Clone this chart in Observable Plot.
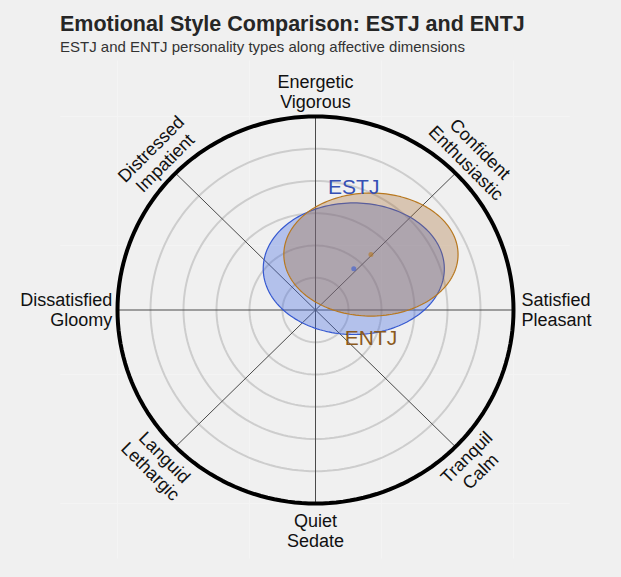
<!DOCTYPE html>
<html>
<head>
<meta charset="utf-8">
<script src="https://cdn.jsdelivr.net/npm/d3@7"></script>
<script src="https://cdn.jsdelivr.net/npm/@observablehq/plot@0.6"></script>
<style>
  body { margin: 0; background: #f0f0f0; font-family: "Liberation Sans", Arial, sans-serif; }
  #wrap { position: relative; width: 621px; height: 577px; background: #f0f0f0; }
  #header { height: 60px; position: relative; }
  #title { position: absolute; left: 60px; top: 11px; font-size: 21.5px; font-weight: bold; color: #262626; line-height: 26px; white-space: nowrap; }
  #subtitle { position: absolute; left: 60px; top: 38px; font-size: 15px; color: #333; line-height: 18px; white-space: nowrap; }
  #chart svg { display: block; }
</style>
</head>
<body>
<div id="wrap">
  <div id="header">
    <div id="title">Emotional Style Comparison: ESTJ and ENTJ</div>
    <div id="subtitle">ESTJ and ENTJ personality types along affective dimensions</div>
  </div>
  <div id="chart"></div>
</div>
<script>
// ---- data ----
const types = ["ESTJ", "ENTJ"];
const centerX = [0.29, 0.42];
const centerY = [0.32, 0.43];
const radiusX = [0.686, 0.66];
const radiusY = [0.51, 0.477];
const labelX = [0.29, 0.42];
const labelY = [0.95, -0.22];

const dimensionLabels = [
  "Satisfied\nPleasant", "Confident\nEnthusiastic", "Energetic\nVigorous", "Distressed\nImpatient",
  "Dissatisfied\nGloomy", "Languid\nLethargic", "Quiet\nSedate", "Tranquil\nCalm"
];
const dimensionAngles = [0, 45, 90, 135, 180, 225, 270, 315];
const ringRadii = [0.25, 0.5, 0.75, 1.0, 1.25];
const outerRadius = 1.5;
const gridBreaks = [-1.5, -0.5, 0.5, 1.5];

// ---- styles ----
const fillColors = {ESTJ: "#4169e1", ENTJ: "#a5692f"};
const strokeColors = {ESTJ: "#3558d0", ENTJ: "#b8781f"};
const textColors = {ESTJ: "#3550b5", ENTJ: "#8b5a1e"};

// ---- geometry helpers ----
const rad = d => d * Math.PI / 180;
function ring(r, id) {
  return d3.range(0, 361, 2).map(a => ({id, x: r * Math.cos(rad(a)), y: r * Math.sin(rad(a))}));
}
const ringPts = ringRadii.flatMap((r, i) => ring(r, i));
const outerPts = ring(outerRadius, "outer");

const ellipses = types.map((t, i) => ({
  type: t, cx: centerX[i], cy: centerY[i], rx: radiusX[i], ry: radiusY[i], lx: labelX[i], ly: labelY[i]
}));
const ellipsePts = ellipses.flatMap(e =>
  d3.range(0, 361, 2).map(a => ({type: e.type, x: e.cx + e.rx * Math.cos(rad(a)), y: e.cy + e.ry * Math.sin(rad(a))}))
);

const spokes = dimensionAngles.map(a => ({x: outerRadius * Math.cos(rad(a)), y: outerRadius * Math.sin(rad(a))}));

const dims = dimensionAngles.map((a, i) => {
  let rot = 90 - a;
  while (rot > 90) rot -= 180;
  while (rot <= -90) rot += 180;
  let x, y, anchor = "middle";
  if (a === 0) { x = 1.56; y = 0; anchor = "start"; rot = 0; }
  else if (a === 180) { x = -1.54; y = 0; anchor = "end"; rot = 0; }
  else if (a === 90) { x = 0; y = 1.69; rot = 0; }
  else if (a === 270) { x = 0; y = -1.71; rot = 0; }
  else { x = 1.69 * Math.cos(rad(a)); y = 1.69 * Math.sin(rad(a)); }
  return {label: dimensionLabels[i], x, y, anchor, rot};
});

const font = "Liberation Sans, Arial, sans-serif";
const chart = Plot.plot({
  width: 621,
  height: 517,
  margin: 0,
  x: {domain: [-1.5, 1.5], range: [117, 513], axis: null},
  y: {domain: [-1.5, 1.5], range: [443, 56], axis: null},
  style: {background: "transparent", fontFamily: font},
  marks: [
    Plot.ruleX(gridBreaks, {y1: -1.93, y2: 1.93, stroke: "#f4f4f4", strokeWidth: 1}),
    Plot.ruleY(gridBreaks, {x1: -1.93, x2: 1.93, stroke: "#f4f4f4", strokeWidth: 1}),
    Plot.line(ringPts, {x: "x", y: "y", z: "id", stroke: "#cdcdcd", strokeWidth: 2, curve: "linear-closed"}),
    Plot.link(spokes, {x1: 0, y1: 0, x2: "x", y2: "y", stroke: "#4a4a4a", strokeWidth: 1}),
    Plot.line(ellipsePts.filter(d => d.type === "ESTJ"), {x: "x", y: "y", curve: "linear-closed",
      fill: fillColors.ESTJ, fillOpacity: 0.35, stroke: strokeColors.ESTJ, strokeWidth: 1.2}),
    Plot.line(ellipsePts.filter(d => d.type === "ENTJ"), {x: "x", y: "y", curve: "linear-closed",
      fill: fillColors.ENTJ, fillOpacity: 0.32, stroke: strokeColors.ENTJ, strokeWidth: 1.2}),
    Plot.dot(ellipses, {x: "cx", y: "cy", r: 2.5, fill: d => strokeColors[d.type], fillOpacity: 0.6, stroke: null}),
    Plot.text(ellipses, {x: "lx", y: "ly", text: "type", fill: d => textColors[d.type], fontSize: 21}),
    Plot.line(outerPts, {x: "x", y: "y", stroke: "#000", strokeWidth: 4, curve: "linear-closed"}),
    Plot.text(dims.filter(d => d.anchor === "middle"), {x: "x", y: "y", text: "label", rotate: "rot",
      textAnchor: "middle", fontSize: 18, lineHeight: 1.1, fill: "#111"}),
    Plot.text(dims.filter(d => d.anchor === "start"), {x: "x", y: "y", text: "label",
      textAnchor: "start", fontSize: 18, lineHeight: 1.1, fill: "#111"}),
    Plot.text(dims.filter(d => d.anchor === "end"), {x: "x", y: "y", text: "label",
      textAnchor: "end", fontSize: 18, lineHeight: 1.1, fill: "#111"})
  ]
});
document.getElementById("chart").appendChild(chart);
</script>
</body>
</html>
